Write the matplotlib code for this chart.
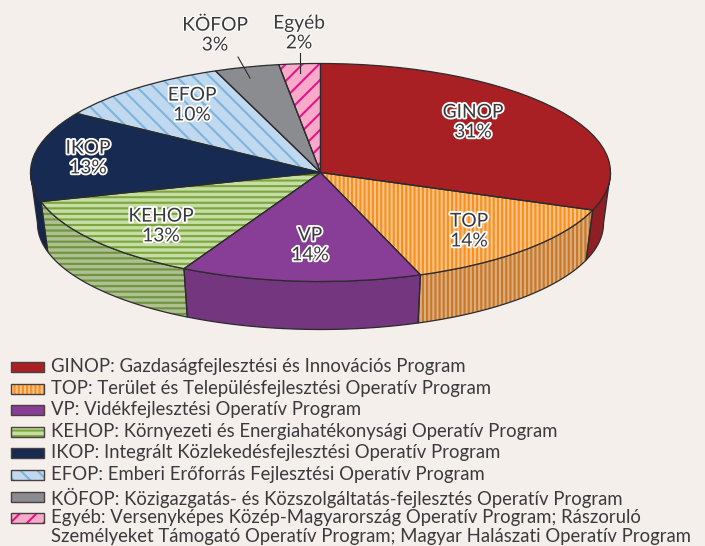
import numpy as np
import matplotlib
matplotlib.use("Agg")
import matplotlib.pyplot as plt
import matplotlib.patheffects as pe
from matplotlib.patches import Rectangle, Wedge

plt.rcParams['font.family'] = ['Lato', 'DejaVu Sans']
plt.rcParams['hatch.linewidth'] = 1.5

# Data
names = ["GINOP", "TOP", "VP", "KEHOP", "IKOP", "EFOP", "KÖFOP", "Egyéb"]
values = [30.6, 13.8, 13.4, 12.9, 13.4, 10.0, 3.6, 2.3]
pct_labels = ["31%", "14%", "14%", "13%", "13%", "10%", "3%", "2%"]
legend_labels = [
    "GINOP: Gazdaságfejlesztési és Innovációs Program",
    "TOP: Terület és Településfejlesztési Operatív Program",
    "VP: Vidékfejlesztési Operatív Program",
    "KEHOP: Környezeti és Energiahatékonysági Operatív Program",
    "IKOP: Integrált Közlekedésfejlesztési Operatív Program",
    "EFOP: Emberi Erőforrás Fejlesztési Operatív Program",
    "KÖFOP: Közigazgatás- és Közszolgáltatás-fejlesztés Operatív Program",
    "Egyéb: Versenyképes Közép-Magyarország Operatív Program; Rászoruló\n"
    "Személyeket Támogató Operatív Program; Magyar Halászati Operatív Program",
]

# Styles
W, H = 705, 546
bg = "#f5efec"
line = "#2b2b2e"
text_col = "#3a3a3d"
face = ["#a92024", "#fcc48a", "#883e96", "#c6dea3", "#172a52", "#c0d9ef", "#8a8c90", "#f8abc8"]
hatch_col = ["#a92024", "#f7901e", "#883e96", "#7ba63f", "#172a52", "#7fb4dc", "#8a8c90", "#e6148c"]
side_face = ["#8f1f24", "#d9ae80", "#73367f", "#aebf90", "#14254d"]
side_hatch = ["#8f1f24", "#cb7726", "#73367f", "#6f9440", "#14254d"]
hatches = [None, "||||", None, "---", None, "\\\\", None, "//"]
label_pos = [(473, 122), (469, 231), (310, 245), (161, 226), (88, 158), (192, 105), (215, 35), (299, 33)]
label_stroke = [True, True, True, True, True, True, False, False]

fig = plt.figure(figsize=(W / 100, H / 100), dpi=100, facecolor=bg)

# top ellipse of the pie fills this axes
left, right, top, bottom = 30.5, 610.5, 63.5, 281.5
ax = fig.add_axes([left / W, 1 - bottom / H, (right - left) / W, (bottom - top) / H])
wedges, _ = ax.pie(values, startangle=90, counterclock=False, radius=1,
                   colors=face, wedgeprops=dict(linewidth=0))
ax.set_aspect("auto")
ax.set_xlim(-1, 1)
ax.set_ylim(-1, 1)

# side wall, bottom ellipse is a bit smaller and lower
ry_px = (bottom - top) / 2
drop = 51 / ry_px
sx, sy = 283 / 290, 106 / 109
edges = np.cumsum([0] + values) * 3.6
for i in range(len(side_face)):
    a0 = max(edges[i], 90)
    a1 = min(edges[i + 1], 270)
    t = np.radians(np.linspace(a0, a1, 80))
    xs = np.concatenate([np.sin(t), sx * np.sin(t[::-1])])
    ys = np.concatenate([np.cos(t), sy * np.cos(t[::-1]) - drop])
    ax.fill(xs, ys, facecolor=side_face[i], edgecolor="none", clip_on=False, zorder=1)
    if hatches[i]:
        ax.fill(xs, ys, facecolor="none", edgecolor=side_hatch[i], hatch=hatches[i],
                linewidth=0, clip_on=False, zorder=1.1)
    ax.fill(xs, ys, facecolor="none", edgecolor=line, linewidth=0.9, clip_on=False, zorder=1.2)

# top face
for i, w in enumerate(wedges):
    w.set_zorder(2)
    w.set_clip_on(False)
    if hatches[i]:
        w.set_edgecolor(hatch_col[i])
        w.set_hatch(hatches[i])
    ax.add_patch(Wedge(w.center, w.r, w.theta1, w.theta2, facecolor="none",
                       edgecolor=line, linewidth=0.9, zorder=3, clip_on=False))

# overlay in pixel coordinates for labels and legend
ov = fig.add_axes([0, 0, 1, 1], facecolor="none")
ov.set_xlim(0, W)
ov.set_ylim(H, 0)
ov.axis("off")

for i in range(len(names)):
    effects = [pe.withStroke(linewidth=2.6 if label_stroke[i] else 1.5, foreground="white")]
    ov.text(label_pos[i][0], label_pos[i][1], names[i] + "\n" + pct_labels[i], ha="center", va="center",
            fontsize=13.8, color=text_col, linespacing=1.2, path_effects=effects, zorder=6)

# leader lines for the two small slices
ov.plot([238, 250], [57, 78], color=line, linewidth=0.8, zorder=5)
ov.plot([300, 300], [53, 73], color=line, linewidth=0.8, zorder=5)

# legend, last entry has two lines and must stay inside the picture
row0, step = 367, 21.6
for i, lab in enumerate(legend_labels):
    y = row0 + i * step
    ov.add_patch(Rectangle((11, y - 5), 33, 10, facecolor=face[i], edgecolor="none"))
    if hatches[i]:
        ov.add_patch(Rectangle((11, y - 5), 33, 10, facecolor="none", edgecolor=hatch_col[i],
                               hatch=hatches[i], linewidth=0))
    ov.add_patch(Rectangle((11, y - 5), 33, 10, facecolor="none", edgecolor="#4a3f3f", linewidth=1))
    ov.text(51, y - 9, lab, ha="left", va="top", fontsize=13.35, color=text_col, linespacing=1.16)

fig.savefig("out.png", dpi=100, facecolor=bg)
